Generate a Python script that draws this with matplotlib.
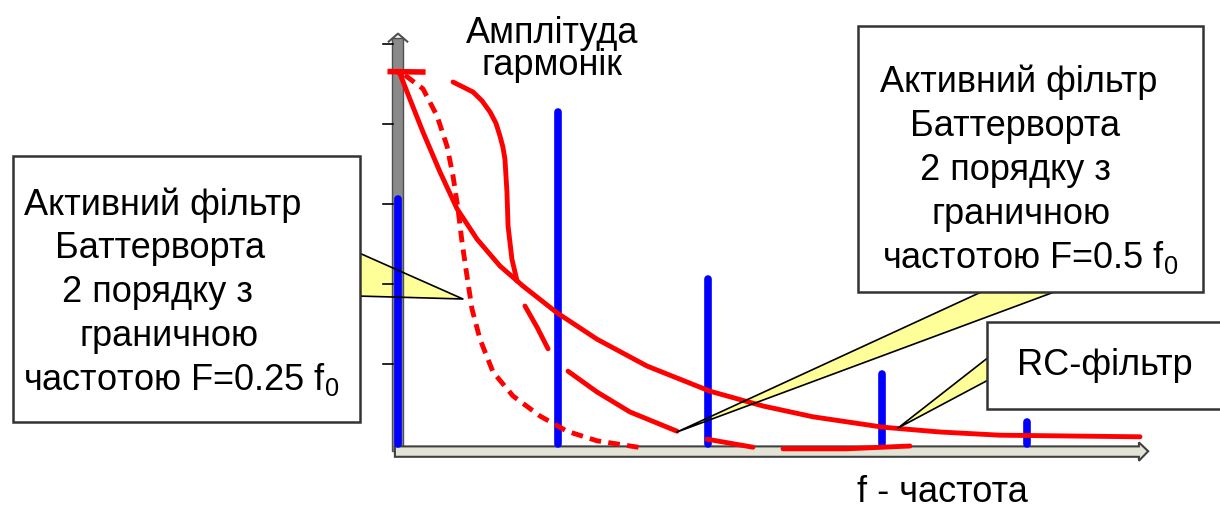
import matplotlib
matplotlib.use("Agg")
import matplotlib.pyplot as plt
from matplotlib.patches import Rectangle, Polygon

matplotlib.rcParams.update({
    'font.family': ['Liberation Sans', 'DejaVu Sans'],
    'font.size': 26,
    'mathtext.fontset': 'custom',
    'mathtext.rm': 'Liberation Sans',
    'mathtext.it': 'Liberation Sans',
})

# harmonics (frequency in units of f0) and their amplitudes
harm_f = [0.0, 1.03, 2.0, 3.12, 4.06]
harm_a = [3.06, 4.15, 2.06, 0.88, 0.28]

# RC filter response
rc_f = [0.0, 0.013, 0.077, 0.161, 0.271, 0.381, 0.510, 0.658, 0.806, 1.026,
        1.284, 1.606, 2.013, 2.355, 2.677, 3.129, 3.497, 3.884, 4.335, 4.787]
rc_a = [4.66, 4.625, 4.31, 3.90, 3.40, 2.94, 2.56, 2.225, 1.975, 1.64,
        1.31, 0.975, 0.66, 0.475, 0.34, 0.21, 0.15, 0.11, 0.10, 0.09]

# Butterworth 2nd order, F = 0.5 f0 (hand drawn, broken into long dashes)
bw05_parts = [
    ([0.355, 0.484, 0.542, 0.594, 0.632, 0.658, 0.677, 0.690, 0.703, 0.710,
      0.735, 0.768],
     [4.525, 4.40, 4.29, 4.15, 4.01, 3.85, 3.71, 3.56, 3.15, 2.725, 2.31, 2.04]),
    ([0.819, 0.897, 0.968], [1.725, 1.46, 1.19]),
    ([1.097, 1.284, 1.497, 1.8], [0.91, 0.65, 0.40, 0.16]),
    ([1.994, 2.142, 2.29], [0.06, 0.01, -0.04]),
    ([2.484, 2.897, 3.303], [-0.06, -0.06, -0.025]),
]

# Butterworth 2nd order, F = 0.25 f0 (dashed)
bw025_f = [0.045, 0.161, 0.252, 0.316, 0.355, 0.387, 0.413, 0.445, 0.477, 0.529,
           0.613, 0.742, 0.916, 1.09, 1.284, 1.581]
bw025_a = [4.61, 4.44, 4.10, 3.725, 3.35, 2.94, 2.525, 2.10, 1.69, 1.31,
           0.90, 0.60, 0.35, 0.16, 0.04, -0.05]

y_ticks = [1, 2, 3, 4, 5]

lines_left = ["Активний фільтр", "Баттерворта", "2 порядку з", "граничною",
              "частотою F=0.25 f$_0$"]
lines_right = ["Активний фільтр", "Баттерворта", "2 порядку з", "граничною",
               "частотою F=0.5 f$_0$"]

fig = plt.figure(figsize=(12.2, 5.1), dpi=100)
ax = fig.add_axes([0, 0, 1, 1])
ax.set_xlim(-398 / 155, 822 / 155)
ax.set_ylim(-65 / 80, 445 / 80)
ax.axis('off')

red = '#ff0000'
blue = '#0000ff'
yel = '#ffff99'

# axes drawn as grey 3d-ish bars
ax.add_patch(Rectangle((-0.036, -0.09), 0.068, 5.16, facecolor='#8a8a8a',
                       edgecolor='#505050', lw=1, zorder=2))
ax.plot([-0.06, 0.0, 0.06], [5.03, 5.13, 5.03], color='#505050', lw=1.5, zorder=2)
ax.add_patch(Polygon([(-0.02, -0.03), (4.78, -0.03), (4.78, 0.02), (4.84, -0.09),
                      (4.78, -0.21), (4.78, -0.16), (-0.02, -0.16)],
                     closed=True, facecolor='#e4e4d6', edgecolor='#404040',
                     lw=1.5, zorder=2))
for t in y_ticks:
    ax.plot([-0.1, -0.035], [t, t], color='black', lw=1.2, zorder=2)

# callout pointers (fill below, outline above)
pointers = [
    [(-0.265, 2.4), (-0.265, 1.85), (0.419, 1.8125)],
    [(3.819, 1.95), (4.303, 1.95), (1.8, 0.15)],
    [(3.82, 1.1), (3.82, 0.8125), (3.226, 0.2)],
]
for p in pointers:
    ax.add_patch(Polygon(p, closed=True, facecolor=yel, edgecolor='none', zorder=1))
    ax.plot([p[0][0], p[2][0], p[1][0]], [p[0][1], p[2][1], p[1][1]],
            color='black', lw=1.2, zorder=6)

# harmonics
for f, a in zip(harm_f, harm_a):
    ax.plot([f, f], [0, a], color=blue, lw=5.5, solid_capstyle='round', zorder=3)

# filter curves
ax.plot(rc_f, rc_a, color=red, lw=3.5, zorder=4, solid_capstyle='round',
        solid_joinstyle='round')
for xs, ys in bw05_parts:
    ax.plot(xs, ys, color=red, lw=3.5, zorder=4, solid_capstyle='round',
            solid_joinstyle='round')
ax.plot(bw025_f, bw025_a, color=red, lw=3.5, zorder=4, dashes=(2.4, 1.5))
ax.plot([-0.05, 0.16], [4.655, 4.65], color=red, lw=4, zorder=4)

# boxes
boxes = [(-2.484, 0.275, 2.239, 3.325), (2.968, 1.9, 2.226, 3.325),
         (3.8, 0.4375, 1.516, 1.0875)]
for x0, y0, w, h in boxes:
    ax.add_patch(Rectangle((x0, y0), w, h, facecolor='white', edgecolor='#333333',
                           lw=1.8, zorder=7))

# box texts, line by line
left_x = [-2.41, -2.216, -2.165, -2.055, -2.42]
right_x = [3.109, 3.303, 3.368, 3.445, 3.122]
for i, s in enumerate(lines_left):
    ax.text(left_x[i], (445 - 205 - 43.75 * i) / 80, s, ha='left', va='center',
            zorder=8)
for i, s in enumerate(lines_right):
    ax.text(right_x[i], (445 - 82 - 44 * i) / 80, s, ha='left', va='center',
            zorder=8)
ax.text(4.561, 0.99, "RC-фільтр", ha='center', va='center', zorder=8)
ax.text(0.994, 4.94, "Амплітуда\nгармонік", ha='center', va='center',
        linespacing=0.9, zorder=8)
ax.text(3.51, -0.6, "f - частота", ha='center', va='center', zorder=8)

fig.savefig('out.png', dpi=100)
